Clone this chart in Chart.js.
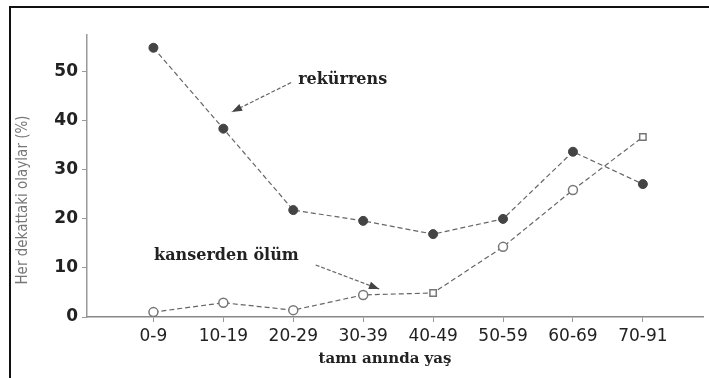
<!DOCTYPE html>
<html lang="tr">
<head>
    <meta charset="UTF-8">
    <title>Her dekattaki olaylar</title>
    <script src="https://cdn.jsdelivr.net/npm/chart.js"></script>
    <style>
        * { margin: 0; padding: 0; box-sizing: border-box; }
        body { background: #fff; width: 709px; height: 378px; overflow: hidden; }
        canvas { display: block; }
    </style>
</head>
<body>
    <canvas id="eventsChart" width="709" height="378"></canvas>

    <script>
        // data
        const ageGroups = ['0-9', '10-19', '20-29', '30-39', '40-49', '50-59', '60-69', '70-91'];
        const recurrence = [54.9, 38.4, 21.8, 19.6, 16.9, 20.0, 33.7, 27.1];
        const cancerDeath = [1.0, 2.9, 1.4, 4.5, 4.9, 14.3, 25.9, 36.7];
        const yTicks = [0, 10, 20, 30, 40, 50];

        const serif = "'DejaVu Serif', 'Liberation Serif', serif";
        const narrow = "'Liberation Sans Narrow', 'DejaVu Sans Condensed', sans-serif";

        function toPoints(values) {
            return values.map((v, i) => ({ x: i, y: v }));
        }

        function arrow(ctx, x1, y1, x2, y2) {
            const ang = Math.atan2(y2 - y1, x2 - x1);
            ctx.save();
            ctx.strokeStyle = '#666';
            ctx.fillStyle = '#444';
            ctx.lineWidth = 1.2;
            ctx.setLineDash([4, 2]);
            ctx.beginPath();
            ctx.moveTo(x1, y1);
            ctx.lineTo(x2, y2);
            ctx.stroke();
            ctx.setLineDash([]);
            ctx.beginPath();
            ctx.moveTo(x2, y2);
            ctx.lineTo(x2 - 11 * Math.cos(ang - 0.35), y2 - 11 * Math.sin(ang - 0.35));
            ctx.lineTo(x2 - 11 * Math.cos(ang + 0.35), y2 - 11 * Math.sin(ang + 0.35));
            ctx.closePath();
            ctx.fill();
            ctx.restore();
        }

        // frame, axis titles and the two labels with arrows
        const decorations = {
            id: 'decorations',
            afterDraw(chart) {
                const ctx = chart.ctx;
                const xs = chart.scales.x, ys = chart.scales.y;
                const area = chart.chartArea;
                const px = v => xs.getPixelForValue(v);
                const py = v => ys.getPixelForValue(v);

                ctx.save();
                ctx.strokeStyle = '#111';
                ctx.lineWidth = 2;
                ctx.beginPath();
                ctx.moveTo(chart.width, 7);
                ctx.lineTo(10, 7);
                ctx.lineTo(10, chart.height);
                ctx.stroke();

                // y title
                ctx.save();
                ctx.translate(23, 200);
                ctx.rotate(-Math.PI / 2);
                ctx.font = '15px ' + narrow;
                ctx.fillStyle = '#777';
                ctx.textAlign = 'center';
                ctx.textBaseline = 'middle';
                ctx.fillText('Her dekattaki olaylar (%)', 0, 0);
                ctx.restore();

                // x title
                ctx.font = 'bold 15px ' + serif;
                ctx.fillStyle = '#222';
                ctx.textAlign = 'center';
                ctx.textBaseline = 'middle';
                ctx.fillText('tamı anında yaş', 385, area.bottom + 42);

                // series labels
                ctx.font = 'bold 16px ' + serif;
                ctx.textAlign = 'left';
                ctx.fillText('rekürrens', px(2.07), py(48.4));
                ctx.fillText('kanserden ölüm', px(0.01), py(12.4));
                ctx.restore();

                arrow(ctx, px(1.97), py(47.8), px(1.12), py(41.8));
                arrow(ctx, px(2.32), py(10.6), px(3.23), py(5.7));
            }
        };

        const lineStyle = {
            borderColor: '#666',
            borderWidth: 1.2,
            borderDash: [5, 3],
            tension: 0,
            fill: false
        };

        new Chart(document.getElementById('eventsChart'), {
            type: 'line',
            data: {
                datasets: [{
                    label: 'rekürrens',
                    data: toPoints(recurrence),
                    ...lineStyle,
                    pointRadius: 4.5,
                    pointBackgroundColor: '#444',
                    pointBorderColor: '#444',
                    pointBorderWidth: 1
                }, {
                    label: 'kanserden ölüm',
                    data: toPoints(cancerDeath),
                    ...lineStyle,
                    pointRadius: 4.5,
                    pointStyle: ['circle', 'circle', 'circle', 'circle', 'rect', 'circle', 'circle', 'rect'],
                    pointBackgroundColor: '#fff',
                    pointBorderColor: '#777',
                    pointBorderWidth: 1.5
                }]
            },
            options: {
                responsive: false,
                animation: false,
                layout: { padding: { top: 35, left: 0, right: 0, bottom: 0 } },
                plugins: {
                    legend: { display: false },
                    tooltip: { enabled: false }
                },
                scales: {
                    x: {
                        type: 'linear',
                        min: -0.95,
                        max: 7.86,
                        afterBuildTicks: s => { s.ticks = ageGroups.map((_, i) => ({ value: i })); },
                        afterFit: s => { s.height = 61; },
                        grid: { drawOnChartArea: false, tickLength: 5, color: '#999' },
                        border: { color: '#888', width: 1.5 },
                        ticks: {
                            autoSkip: false,
                            maxRotation: 0,
                            padding: 4,
                            color: '#222',
                            font: { family: "'DejaVu Sans', sans-serif", size: 17 },
                            callback: v => ageGroups[v]
                        }
                    },
                    y: {
                        min: 0,
                        max: 57.5,
                        afterBuildTicks: s => { s.ticks = yTicks.map(v => ({ value: v })); },
                        afterFit: s => { s.width = 87; },
                        grid: { drawOnChartArea: false, tickLength: 5, color: '#999' },
                        border: { color: '#999', width: 1.5, dash: [2, 2] },
                        ticks: {
                            padding: 4,
                            color: '#222',
                            font: { family: "'DejaVu Sans', sans-serif", size: 17, weight: 'bold' }
                        }
                    }
                }
            },
            plugins: [decorations]
        });
    </script>
</body>
</html>
